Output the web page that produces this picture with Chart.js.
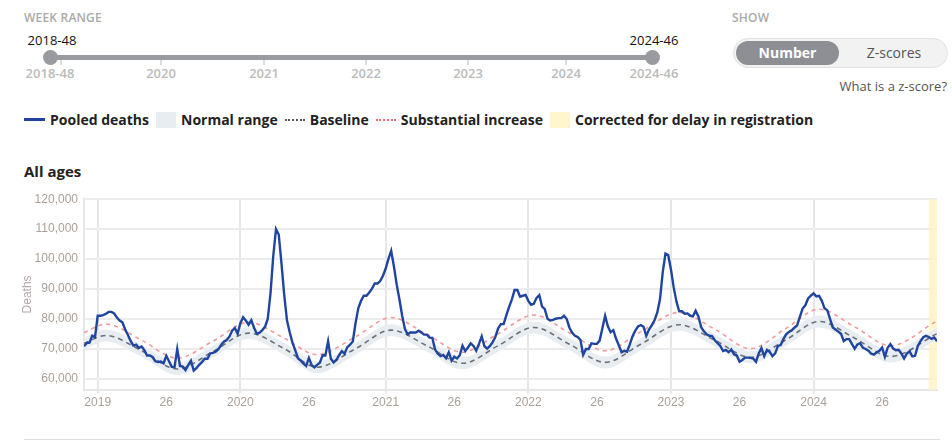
<!DOCTYPE html>
<html>
<head>
<meta charset="utf-8">
<script src="https://cdn.jsdelivr.net/npm/chart.js@4.4.1/dist/chart.umd.min.js"></script>
<style>
  body { margin: 0; width: 952px; height: 442px; background: #fff; font-family: "Open Sans", sans-serif; color: #222; position: relative; overflow: hidden; }
  .abs { position: absolute; }
  .cap { font-size: 12px; font-weight: 600; color: #aaa; letter-spacing: 0.2px; }
  .track { left: 50px; top: 55px; width: 602px; height: 5px; background: #9a9ba0; border-radius: 3px; }
  .handle { top: 50px; width: 15px; height: 15px; border-radius: 50%; background: #9a9ba0; margin-left: -7px; }
  .stick { top: 60px; width: 2px; height: 5px; background: #ddd; }
  .slab { top: 64px; font-size: 13px; font-weight: 600; color: #bbb; transform: translateX(-50%); }
  .val { top: 31px; font-size: 13px; color: #111; transform: translateX(-50%); }
  .toggle { left: 733px; top: 38px; width: 213px; height: 28px; border: 1px solid #e2e2e2; border-radius: 15px; background: #f2f2f2; }
  .on { left: 2px; top: 2px; width: 103px; height: 24px; border-radius: 12px; background: #8e8f94; color: #fff; font-weight: 700; font-size: 14px; text-align: center; line-height: 24px; }
  .off { left: 110px; top: 2px; width: 100px; line-height: 24px; text-align: center; font-size: 14px; color: #555; }
  .legend { left: 24px; top: 110px; display: flex; align-items: center; font-size: 14px; font-weight: 700; color: #222; white-space: nowrap; }
  .legend span.sw { display: inline-block; margin-right: 5px; }
  .legend .item { display: flex; align-items: center; margin-right: 7px; }
  #wrap { left: 16px; top: 186px; width: 930px; height: 226px; }
</style>
</head>
<body>
<div class="abs cap" style="left:24px; top:9px;">WEEK RANGE</div>
<div class="abs val" style="left:52px;">2018-48</div>
<div class="abs val" style="left:654px;">2024-46</div>
<div class="abs track"></div>
<div class="abs stick" style="left:60px;"></div>
<div class="abs stick" style="left:160px;"></div>
<div class="abs stick" style="left:263px;"></div>
<div class="abs stick" style="left:365px;"></div>
<div class="abs stick" style="left:467px;"></div>
<div class="abs stick" style="left:565px;"></div>
<div class="abs handle" style="left:50px;"></div>
<div class="abs handle" style="left:652px;"></div>
<div class="abs slab" style="left:50px;">2018-48</div>
<div class="abs slab" style="left:161px;">2020</div>
<div class="abs slab" style="left:264px;">2021</div>
<div class="abs slab" style="left:366px;">2022</div>
<div class="abs slab" style="left:468px;">2023</div>
<div class="abs slab" style="left:566px;">2024</div>
<div class="abs slab" style="left:654px;">2024-46</div>

<div class="abs cap" style="left:732px; top:9px;">SHOW</div>
<div class="abs toggle">
  <div class="abs on">Number</div>
  <div class="abs off">Z-scores</div>
</div>
<div class="abs" style="right:5px; top:77px; font-size:13px; color:#555;">What is a z-score?</div>

<div class="abs legend">
  <div class="item"><span class="sw" style="width:21px; height:3px; background:#1f45a0;"></span>Pooled deaths</div>
  <div class="item"><span class="sw" style="width:20px; height:16px; background:#e8edf2;"></span>Normal range</div>
  <div class="item"><span class="sw" style="width:20px; border-top:2px dotted #555;"></span>Baseline</div>
  <div class="item"><span class="sw" style="width:20px; border-top:2px dotted #f07070;"></span>Substantial increase</div>
  <div class="item"><span class="sw" style="width:20px; height:16px; background:#fff6cf;"></span>Corrected for delay in registration</div>
</div>

<div class="abs" style="left:24px; top:161px; font-size:15px; font-weight:700; color:#222;">All ages</div>

<div class="abs" id="wrap"><canvas id="chart"></canvas></div>

<div class="abs" style="left:24px; top:439px; width:916px; height:1px; background:#ddd;"></div>

<script>
// weekly pooled deaths (thousands), week 0 = 2018-48 ... week 311 = 2024-46
const pooledDeaths = [
  70.8, 71.9, 72.0, 74.3, 73.8, 81.0, 81.0, 81.2, 81.7, 82.3,
  82.3, 81.8, 80.4, 79.4, 78.8, 76.5, 74.6, 72.6, 71.0, 71.3,
  70.2, 70.7, 69.5, 67.7, 67.7, 67.2, 65.8, 65.5, 65.7, 65.1,
  67.6, 65.8, 63.9, 63.8, 69.9, 64.2, 64.0, 62.8, 64.5, 66.0,
  62.7, 63.5, 64.6, 65.5, 66.6, 66.6, 68.4, 68.6, 69.0, 69.8,
  71.2, 72.3, 72.9, 74.0, 76.0, 76.9, 75.0, 78.5, 80.5, 79.4,
  78.0, 79.5, 77.0, 75.0, 75.3, 76.2, 77.3, 80.0, 88.5, 101.0,
  110.0, 108.2, 98.5, 88.0, 79.5, 75.5, 72.0, 69.5, 66.8, 66.0,
  65.0, 64.2, 66.9, 64.5, 63.7, 64.6, 65.3, 67.8, 67.7, 72.5,
  66.6, 65.4, 66.2, 67.8, 69.2, 68.3, 70.5, 71.3, 72.4, 78.5,
  83.5, 86.0, 87.7, 87.7, 88.8, 90.1, 91.8, 91.8, 92.6, 94.4,
  96.8, 100.0, 102.7, 97.5, 91.5, 86.5, 81.0, 76.6, 74.8, 75.4,
  75.4, 75.4, 76.0, 75.4, 74.7, 74.7, 73.7, 73.6, 69.7, 68.3,
  67.5, 67.9, 66.8, 68.8, 66.0, 67.3, 66.7, 67.8, 71.0, 69.2,
  70.4, 71.8, 70.9, 69.3, 71.6, 74.1, 70.8, 70.0, 70.9, 72.2,
  74.0, 76.8, 78.2, 78.2, 81.2, 84.0, 86.5, 89.6, 89.6, 87.4,
  87.7, 88.0, 86.0, 84.7, 85.0, 87.0, 87.9, 84.1, 83.2, 80.0,
  79.4, 79.6, 80.0, 80.2, 80.2, 81.0, 79.9, 77.0, 75.3, 74.3,
  73.9, 72.9, 68.0, 69.9, 69.9, 71.8, 71.6, 71.6, 72.7, 76.8,
  81.0, 77.5, 75.5, 76.2, 73.3, 71.1, 68.8, 69.3, 69.0, 71.4,
  74.2, 76.0, 77.4, 77.9, 77.3, 74.3, 76.4, 77.8, 79.5, 82.0,
  86.5, 95.5, 101.8, 101.3, 96.5, 90.5, 85.8, 82.5, 82.5, 81.7,
  81.8, 81.0, 80.8, 82.7, 80.8, 77.2, 75.8, 74.8, 74.3, 74.2,
  72.8, 71.8, 70.9, 69.2, 69.6, 68.8, 69.7, 68.1, 67.7, 65.6,
  66.2, 67.0, 67.0, 66.9, 66.7, 65.6, 68.4, 70.2, 67.5, 69.6,
  68.9, 67.5, 68.4, 70.9, 71.2, 73.2, 74.8, 75.6, 76.1, 77.0,
  77.8, 80.6, 83.4, 84.5, 86.8, 87.7, 88.5, 87.5, 87.7, 86.0,
  83.5, 82.8, 80.0, 77.1, 76.4, 75.7, 75.0, 72.5, 73.2, 73.2,
  71.5, 70.0, 71.4, 71.8, 70.3, 69.9, 69.3, 68.3, 68.0, 68.8,
  69.3, 70.4, 67.3, 70.3, 71.5, 70.0, 69.5, 69.6, 68.4, 66.7,
  68.4, 69.1, 67.4, 67.6, 70.9, 72.5, 73.8, 74.3, 73.9, 73.3,
  73.7, 72.5
];

// smooth reference curves, read at peaks / troughs / midpoints (thousands)
const refWeeks    = [0, 8, 21, 34, 47, 60, 73, 85, 99, 112, 125, 138, 151, 164, 177, 190, 203, 217, 230, 243, 256, 268, 281, 294, 311];
const baseline    = [71.8, 74.4, 69.3, 63.2, 69.0, 75.2, 70.0, 63.8, 70.0, 76.2, 71.0, 65.1, 71.0, 77.1, 71.5, 65.4, 71.5, 78.0, 72.8, 67.1, 73.0, 79.1, 73.5, 67.4, 75.0];
const rangeLow    = [69.8, 72.4, 67.3, 61.2, 67.0, 73.2, 68.0, 61.8, 68.0, 74.2, 69.0, 63.1, 69.0, 75.1, 69.5, 63.4, 69.5, 76.0, 70.8, 65.1, 71.0, 77.1, 71.5, 65.4, 73.0];
const rangeHigh   = [73.8, 76.4, 71.3, 65.2, 71.0, 77.2, 72.0, 65.8, 72.0, 78.2, 73.0, 67.1, 73.0, 79.1, 73.5, 67.4, 73.5, 80.0, 74.8, 69.1, 75.0, 81.1, 75.5, 69.4, 77.0];
const substantial = [75.4, 78.2, 72.8, 66.8, 72.5, 78.8, 73.5, 68.0, 74.0, 80.4, 74.8, 68.8, 75.0, 81.2, 75.3, 69.3, 75.7, 82.1, 76.5, 70.0, 76.8, 83.2, 77.3, 71.0, 79.3];

const xTickWeeks  = [5, 30, 57, 82, 110, 135, 162, 187, 214, 239, 266, 291];
const xTickLabels = ['2019', '26', '2020', '26', '2021', '26', '2022', '26', '2023', '26', '2024', '26'];
const yTicks = [60000, 70000, 80000, 90000, 100000, 110000, 120000];
const correctedFrom = 308;

const toPts = (weeks, vals) => vals.map((v, k) => ({ x: weeks[k], y: v * 1000 }));
const weekIdx = pooledDeaths.map((v, i) => i);

const tickFont = { family: "'Liberation Sans', Arial, sans-serif", size: 12 };
const tickColor = '#aaa098';

const delayBand = {
  id: 'delayBand',
  beforeDatasetsDraw(chart) {
    const { ctx, chartArea, scales } = chart;
    const x0 = scales.x.getPixelForValue(correctedFrom);
    ctx.save();
    ctx.fillStyle = 'rgba(255, 244, 196, 0.85)';
    ctx.fillRect(x0, chartArea.top, chartArea.right - x0, chartArea.bottom - chartArea.top);
    ctx.restore();
  }
};

new Chart(document.getElementById('chart'), {
  type: 'line',
  data: {
    datasets: [
      {
        label: 'Pooled deaths',
        data: toPts(weekIdx, pooledDeaths),
        borderColor: '#1f45a0',
        borderWidth: 2.4,
        pointRadius: 0,
        tension: 0,
        order: 0
      },
      {
        label: 'Substantial increase',
        data: toPts(refWeeks, substantial),
        borderColor: '#f39a9a',
        borderWidth: 1.6,
        borderDash: [4, 4],
        pointRadius: 0,
        cubicInterpolationMode: 'monotone',
        order: 1
      },
      {
        label: 'Baseline',
        data: toPts(refWeeks, baseline),
        borderColor: '#6e7075',
        borderWidth: 1.6,
        borderDash: [5, 4],
        pointRadius: 0,
        cubicInterpolationMode: 'monotone',
        order: 2
      },
      {
        label: 'Normal low',
        data: toPts(refWeeks, rangeLow),
        borderWidth: 0,
        pointRadius: 0,
        fill: false,
        cubicInterpolationMode: 'monotone',
        order: 3
      },
      {
        label: 'Normal range',
        data: toPts(refWeeks, rangeHigh),
        borderWidth: 0,
        pointRadius: 0,
        fill: '-1',
        backgroundColor: '#e8edf2',
        cubicInterpolationMode: 'monotone',
        order: 4
      }
    ]
  },
  options: {
    responsive: true,
    maintainAspectRatio: false,
    animation: false,
    layout: { padding: { right: 9, top: 0, bottom: 0, left: 0 } },
    plugins: { legend: { display: false }, tooltip: { enabled: false } },
    scales: {
      x: {
        type: 'linear',
        min: 0,
        max: pooledDeaths.length - 1,
        afterBuildTicks: axis => { axis.ticks = xTickWeeks.map(v => ({ value: v })); },
        ticks: {
          autoSkip: false,
          maxRotation: 0,
          color: tickColor,
          font: tickFont,
          padding: 2,
          callback: (value, index) => xTickLabels[index]
        },
        grid: {
          color: ctx => (ctx.index % 2 === 0 ? '#e6e6e6' : 'rgba(0,0,0,0)'),
          lineWidth: 2,
          tickLength: 4
        },
        border: { display: true, color: '#e6e6e6', width: 2 }
      },
      y: {
        min: 56300,
        max: 120000,
        afterBuildTicks: axis => { axis.ticks = yTicks.map(v => ({ value: v })); },
        afterFit: scale => { scale.width = 68; },
        ticks: {
          color: tickColor,
          font: tickFont,
          padding: 6,
          callback: value => value.toLocaleString('en-US')
        },
        grid: { color: '#ececec', lineWidth: 2, tickLength: 0 },
        border: { display: true, color: '#e6e6e6', width: 2 },
        title: {
          display: true,
          text: 'Deaths',
          color: '#b8a9a9',
          font: { family: "'Liberation Sans', Arial, sans-serif", size: 12 },
          padding: { top: 4, bottom: 0 }
        }
      }
    }
  },
  plugins: [delayBand]
});
</script>
</body>
</html>
